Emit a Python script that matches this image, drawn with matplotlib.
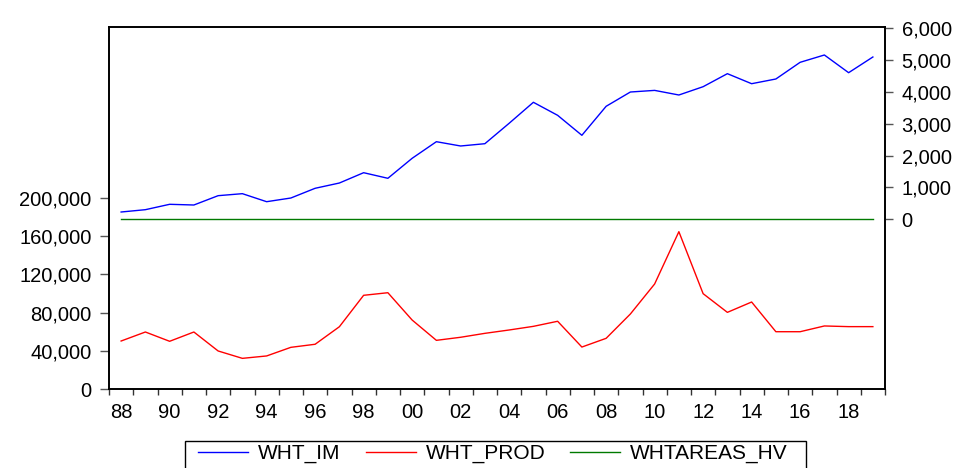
import matplotlib
matplotlib.use('Agg')
import matplotlib.pyplot as plt
import matplotlib as mpl
import numpy as np
from matplotlib.patches import Rectangle
from matplotlib.ticker import FixedLocator, FuncFormatter

mpl.rcParams['font.family'] = ['Liberation Sans', 'DejaVu Sans']

# 数据
years = np.arange(1988, 2020)
wht_im = [229, 302, 471, 449, 742, 805, 553, 669, 974, 1140,
          1464, 1288, 1916, 2438, 2303, 2375, 3016, 3676, 3267, 2639,
          3550, 3999, 4050, 3905, 4166, 4575, 4260, 4408, 4932, 5162,
          4606, 5099]
wht_prod = [50400, 59800, 50100, 59800, 40000, 32300, 34800, 43800, 47000, 65300,
            98100, 100800, 72300, 51100, 54300, 58400, 61900, 65700, 71000, 44100,
            53200, 78600, 109900, 164500, 99800, 80300, 91100, 60100, 60100, 66100,
            65400, 65400]
whtareas_hv = [0] * len(years)

left_ticks = [0, 40000, 80000, 120000, 160000, 200000]
right_ticks = [0, 1000, 2000, 3000, 4000, 5000, 6000]

W, H = 960, 468
fig = plt.figure(figsize=(W/100, H/100), dpi=100)
ax = fig.add_axes([109/W, 1-389.3/H, (885-109)/W, (389.3-27.3)/H])
ax2 = ax.twinx()

x = years + 0.5  # 年度数据画在区间中间
l1, = ax2.plot(x, wht_im, color='#0000ff', lw=1.0, label='WHT_IM')
l2, = ax.plot(x, wht_prod, color='#ff0000', lw=1.0, label='WHT_PROD')
l3, = ax2.plot(x, whtareas_hv, color='#007a00', lw=1.0, label='WHTAREAS_HV')

ax.set_xlim(1988, 2020)
ax.set_ylim(0, 377800)
ax2.set_ylim(-5341, 6032)

ax.set_yticks(left_ticks)
ax.yaxis.set_major_formatter(FuncFormatter(lambda v, p: f'{int(v):,}'))
ax2.set_yticks(right_ticks)
ax2.yaxis.set_major_formatter(FuncFormatter(lambda v, p: f'{int(v):,}'))

# x轴：刻度在年份边界，标签在区间中间
ax.xaxis.set_major_locator(FixedLocator(np.arange(1988, 2021)))
ax.xaxis.set_major_formatter(FuncFormatter(lambda v, p: ''))
ax.xaxis.set_minor_locator(FixedLocator(np.arange(1988, 2020, 2) + 0.5))
ax.xaxis.set_minor_formatter(FuncFormatter(lambda v, p: f'{int(v) % 100:02d}'))

ax.tick_params(axis='x', which='major', direction='out', length=4.5, width=1, color='#333333')
ax.tick_params(axis='x', which='minor', length=0, labelsize=14.5, pad=10)
ax.tick_params(axis='y', direction='out', length=6.5, width=1, color='#555555', labelsize=14.5, pad=6)
ax2.tick_params(axis='y', direction='out', length=6, width=1, color='#555555', labelsize=14.5, pad=6)

for a in (ax, ax2):
    for s in a.spines.values():
        s.set_color('black')
        s.set_linewidth(1.2)

# 图例：框单独画，底边在图外
fig.patches.append(Rectangle((185/W, -0.1), (806-185)/W, 0.1 + 1-441/H,
                             transform=fig.transFigure, fill=False,
                             edgecolor='black', linewidth=1.0))
leg = fig.legend(handles=[l1, l2, l3], loc='upper left',
                 bbox_to_anchor=(198/W, 1-444/H), bbox_transform=fig.transFigure,
                 ncol=3, fontsize=15, frameon=False,
                 handlelength=2.4, handletextpad=0.48, columnspacing=1.2,
                 borderpad=0, borderaxespad=0)

plt.savefig('out.png', dpi=100)
